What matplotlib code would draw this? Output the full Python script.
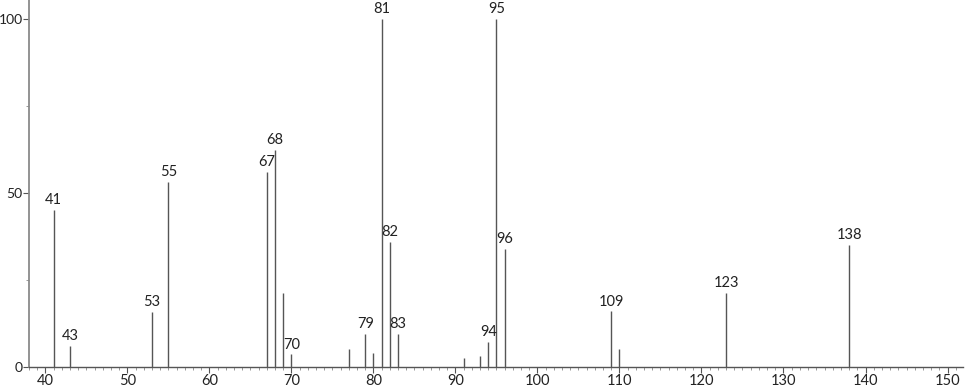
import matplotlib.pyplot as plt
import numpy as np
from matplotlib.ticker import MultipleLocator

# m/z values and relative intensities
mz = [41, 43, 53, 55, 67, 68, 69, 70, 77, 79, 80, 81, 82, 83,
      91, 93, 94, 95, 96, 109, 110, 123, 138]
intensity = [45.1, 6.0, 15.9, 53.1, 56.0, 62.4, 21.2, 3.6, 5.1, 9.5, 3.9, 100.0, 36.0, 9.5,
             2.7, 3.2, 7.2, 100.0, 33.9, 16.0, 5.1, 21.2, 35.1]
labeled = [41, 43, 53, 55, 67, 68, 70, 79, 81, 82, 83, 94, 95, 96, 109, 123, 138]

plt.rcParams["font.family"] = ["Lato", "DejaVu Sans"]

fig = plt.figure(figsize=(9.66, 3.89), dpi=100)
ax = fig.add_axes([0.030, 0.0566, 0.967, 0.9434])

ax.vlines(mz, 0, intensity, color="#555555", linewidth=1.0)
for m, h in zip(mz, intensity):
    if m in labeled:
        ax.annotate(str(m), (m, h), xytext=(0, 2), textcoords="offset points",
                    ha="center", va="bottom", fontsize=10.5, color="#222222")

ax.set_xlim(38, 151.9)
ax.set_ylim(0, 105.5)
ax.xaxis.set_major_locator(MultipleLocator(10))
ax.xaxis.set_minor_locator(MultipleLocator(1))
ax.yaxis.set_major_locator(MultipleLocator(50))
ax.yaxis.set_minor_locator(MultipleLocator(25))

for s in ["top", "right"]:
    ax.spines[s].set_visible(False)
ax.spines["left"].set_color("#8a8a8a")
ax.spines["left"].set_linewidth(1.3)
ax.spines["bottom"].set_color("#555555")
ax.spines["bottom"].set_linewidth(1.0)

ax.tick_params(axis="both", which="major", length=4.5, width=0.8, color="#555555",
               labelsize=10.5, labelcolor="#222222", pad=0.5)
ax.tick_params(axis="y", which="major", labelsize=10, pad=0)
ax.tick_params(axis="both", which="minor", length=2.5, width=0.6, color="#888888")

fig.savefig("out.png", dpi=100, facecolor="white")
